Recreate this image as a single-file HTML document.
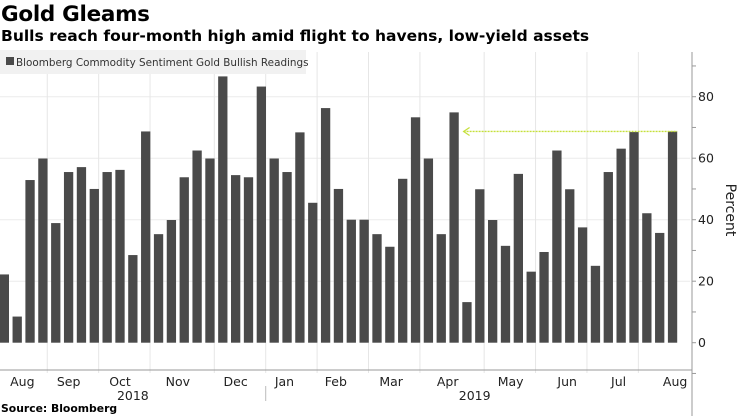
<!DOCTYPE html>
<html><head><meta charset="utf-8"><style>
body{margin:0;background:#fff;width:740px;height:416px;overflow:hidden;font-family:"DejaVu Sans","Liberation Sans",sans-serif}
#title{position:absolute;left:1px;top:2px;font-weight:bold;font-size:21.5px;color:#000;letter-spacing:-0.3px}
#sub{position:absolute;left:1px;top:27px;font-weight:bold;font-size:15.5px;color:#000}
svg{position:absolute;left:0;top:0}
</style></head><body>
<div id="title">Gold Gleams</div>
<div id="sub">Bulls reach four-month high amid flight to havens, low-yield assets</div>
<svg id="chart" width="740" height="416"></svg>
<script>
const values=[22.2,8.5,52.9,59.9,38.9,55.5,57.1,50,55.5,56.2,28.5,68.7,35.3,39.9,53.8,62.5,59.9,86.6,54.5,53.8,83.3,59.9,55.5,68.4,45.5,76.3,50,40,40,35.3,31.2,53.3,73.3,59.9,35.3,74.9,13.2,49.9,39.9,31.5,54.9,23.1,29.5,62.5,49.9,37.5,25,55.5,63.1,68.5,42.1,35.7,68.7];
const yTicks=[0,20,40,60,80];
const monthLabels=["Aug","Sep","Oct","Nov","Dec","Jan","Feb","Mar","Apr","May","Jun","Jul","Aug"];
const monthLabelIdx=[1.4,5,9,13.5,18,21.8,25.8,30.1,34.5,39.4,43.8,47.8,52.2];
const monthBoundIdx=[3.3,7.3,11.3,16.3,20.3,24.3,28.3,32.3,37.3,41.3,45.3,49.3];
const yearLabels=["2018","2019"];
const yearLabelIdx=[10,36.6];
const yearSepIdx=20.3;
const refValue=68.7, refStartIdx=36.1;
const NS="http://www.w3.org/2000/svg";
const svg=document.getElementById('chart');
const pitch=12.85, bw=9.3, x0=-0.3;
const xi=i=>x0+i*pitch;
const y=v=>342.7-v*3.075;
function mk(t,a){const e=document.createElementNS(NS,t);for(const k in a)e.setAttribute(k,a[k]);svg.appendChild(e);return e;}
yTicks.forEach(t=>{if(t>0){const l=mk('line',{x1:0,x2:690,y1:y(t),y2:y(t),stroke:'#ececec','stroke-width':1});}});
monthBoundIdx.forEach(b=>{const l=mk('line',{x1:xi(b)+bw/2+0.5,x2:xi(b)+bw/2+0.5,y1:52,y2:373,stroke:'#e6e6e6','stroke-width':1});});
const lg=mk('rect',{x:0,y:50,width:306,height:24,fill:'#f1f1f1'});


const ls=mk('rect',{x:6,y:57,width:8,height:8,fill:'#4a4a4a'});


const lt=mk('text',{x:16,y:66,'font-size':'10.4',fill:'#333','font-family':'DejaVu Sans, sans-serif'});lt.textContent='Bloomberg Commodity Sentiment Gold Bullish Readings';


values.forEach((v,i)=>{const r=mk('rect',{x:xi(i),y:y(v),width:bw,height:y(0)-y(v),fill:'#4a4a4a'});});
const ry=y(refValue);
const ra=mk('line',{x1:xi(refStartIdx),x2:xi(values.length-1)+bw,y1:ry,y2:ry,stroke:'#c5e03a','stroke-width':1.3,'stroke-dasharray':'2,1'});


const rh=mk('polyline',{points:`${xi(refStartIdx)+6},${ry-4} ${xi(refStartIdx)},${ry} ${xi(refStartIdx)+6},${ry+4}`,fill:'none',stroke:'#c5e03a','stroke-width':1.2});


const xa=mk('line',{x1:0,x2:692,y1:370,y2:370,stroke:'#999','stroke-width':1});


monthLabels.forEach((m,i)=>{const t=mk('text',{x:xi(monthLabelIdx[i])+bw/2,y:386,'font-size':'12.5',fill:'#222','text-anchor':'middle'});t.textContent=m;});
yearLabels.forEach((m,i)=>{const t=mk('text',{x:xi(yearLabelIdx[i])+bw/2,y:400,'font-size':'12.5',fill:'#222','text-anchor':'middle'});t.textContent=m;});
const ys=mk('line',{x1:xi(yearSepIdx)+bw/2+0.5,x2:xi(yearSepIdx)+bw/2+0.5,y1:386,y2:401,stroke:'#bbb','stroke-width':1});


const ya=mk('line',{x1:692,x2:692,y1:52,y2:416,stroke:'#999','stroke-width':1});


for(let v=-10;v<=90;v+=10){const tk=mk('line',{x1:692,x2:696,y1:y(v),y2:y(v),stroke:'#999','stroke-width':1});}
yTicks.forEach(t=>{const e=mk('text',{x:698,y:y(t)+4.5,'font-size':'12.5',fill:'#222'});e.textContent=t;});
const yt=mk('text',{x:726,y:210,'font-size':'14',fill:'#222','text-anchor':'middle',transform:'rotate(90 726 210)'});yt.textContent='Percent';


const src=mk('text',{x:1,y:412,'font-size':'10.8','font-weight':'bold',fill:'#000'});src.textContent='Source: Bloomberg';


</script>
</body></html>
